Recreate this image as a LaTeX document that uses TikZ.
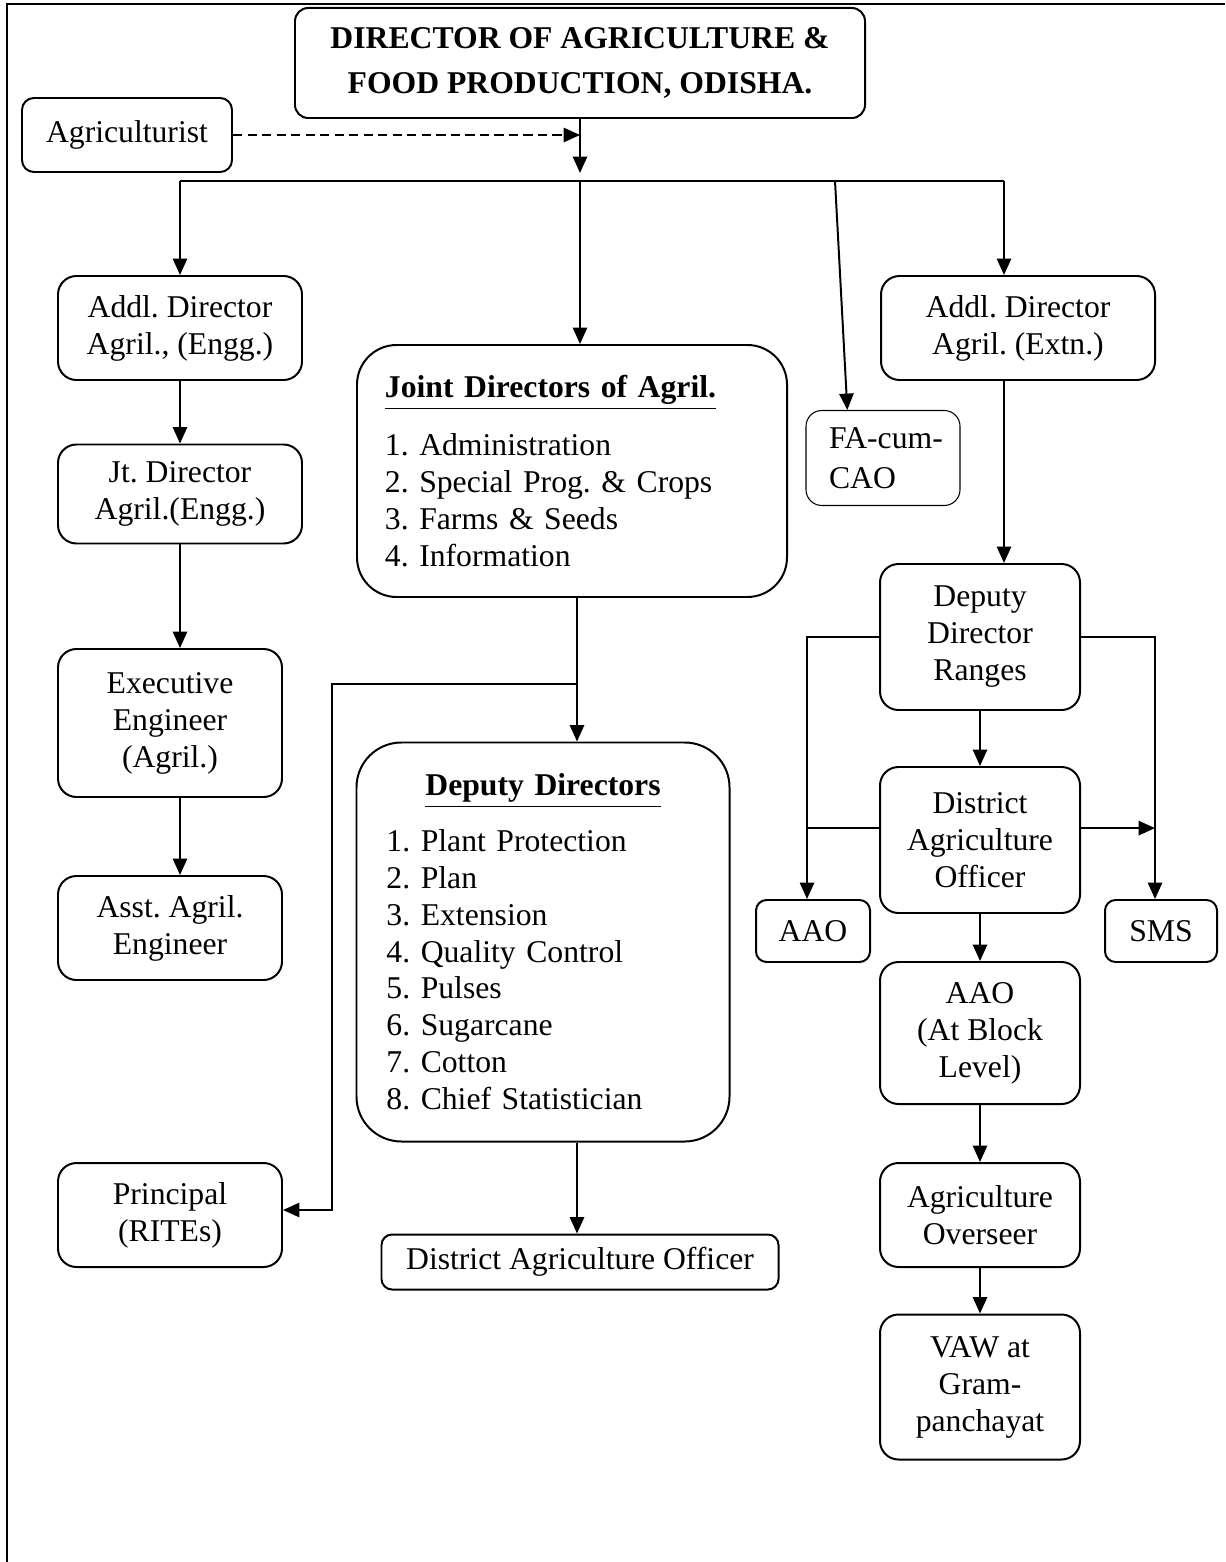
\documentclass[tikz,border=0pt]{standalone}
\usepackage{fontspec}
\setmainfont{Liberation Serif}
\usepackage{tikz}
\usetikzlibrary{arrows.meta,calc}
\frenchspacing
\newcommand{\pxl}{0.3788pt}
\tikzset{
  box/.style      = {shape=rectangle, rounded corners=7pt,
                     draw, line width=0.75pt, align=center, inner sep=0pt,
                     font=\fontsize{12pt}{14pt}\selectfont},
  smallbox/.style = {box, rounded corners=4pt},
  listbox/.style  = {box, rounded corners=15pt, align=left},
  boxsize/.style 2 args = {minimum width=#1*\pxl, minimum height=#2*\pxl},
  link/.style     = {line width=0.75pt},
  arr/.style      = {link, -{Triangle[length=6.2pt,width=5.4pt]}}
}

\begin{document}
\begin{tikzpicture}[x=0.3788pt, y=-0.3788pt]
  \useasboundingbox (0,0) rectangle (1225,1562);
  \draw [line width=0.8pt] (7,1562) -- (7,4) -- (1225,4);

  % top
  \node [box, rounded corners=5pt, boxsize={570}{110},
         font=\bfseries\fontsize{12pt}{17pt}\selectfont] (dir) at (580,63)
        {DIRECTOR OF AGRICULTURE \&\\FOOD PRODUCTION, ODISHA.};
  \node [box, rounded corners=4.5pt, boxsize={210}{74}] (agri) at (127,135) {Agriculturist};

  \coordinate (hubtip) at (580,173);
  \coordinate (hub)    at (580,181);
  \coordinate (lcol)   at (180,181);
  \coordinate (rcol)   at (1004,181);
  \coordinate (fabus)  at (835,181);

  % left column
  \node [box, boxsize={244}{104}] (addlE) at (180,328) {Addl. Director\\Agril., (Engg.)};
  \node [box, boxsize={244}{99}]  (jtE)   at (180,494) {Jt. Director\\Agril.(Engg.)};
  \node [box, boxsize={224}{148}] (exE)   at (170,723) {Executive\\Engineer\\(Agril.)};
  \node [box, boxsize={224}{104}] (asstE) at (170,928) {Asst. Agril.\\Engineer};
  \node [box, boxsize={224}{104}] (prin)  at (170,1215) {Principal\\(RITEs)};

  % middle column
  \node [listbox, boxsize={430}{252}, text width=141.7pt] (jd) at (572,471)
        {\underline{\textbf{Joint Directors of Agril.}}\\[8pt]
         1. Administration\\
         2. Special Prog. \& Crops\\
         3. Farms \& Seeds\\
         4. Information};
  \node [listbox, rounded corners=17pt, boxsize={373}{399}, text width=118.6pt] (dd) at (543,942)
        {\hfill\underline{\textbf{Deputy Directors}}\hfill\null\\[7pt]
         1. Plant Protection\\
         2. Plan\\
         3. Extension\\
         4. Quality Control\\
         5. Pulses\\
         6. Sugarcane\\
         7. Cotton\\
         8. Chief Statistician};
  \node [smallbox, boxsize={397}{55}] (dao2) at (580,1262) {District Agriculture Officer};

  \node [box, rounded corners=6pt, line width=0.4pt, align=left, boxsize={154}{95},
         text width=40.9pt, font=\fontsize{12pt}{15pt}\selectfont] (fa) at (883,458) {\mbox{FA-cum-}\\CAO};

  % right column
  \node [box, boxsize={274}{104}] (addlX) at (1018,328) {Addl. Director\\Agril. (Extn.)};
  \node [box, boxsize={200}{146}] (ddr)  at (980,637)  {Deputy\\Director\\Ranges};
  \node [box, boxsize={200}{146}] (dao)  at (980,840)  {District\\Agriculture\\Officer};
  \node [smallbox, boxsize={114}{62}] (aao) at (813,931) {AAO};
  \node [smallbox, boxsize={112}{62}] (sms) at (1161,931) {SMS};
  \node [box, boxsize={200}{142}] (aaob) at (980,1033) {AAO\\(At Block\\Level)};
  \node [box, boxsize={200}{104}] (ovs)  at (980,1215) {Agriculture\\Overseer};
  \node [box, boxsize={200}{145}] (vaw)  at (980,1387) {VAW at\\Gram-\\panchayat};

  \coordinate (split) at (577,684);
  \coordinate (bend)  at (332,1210);
  \coordinate (lbus)  at (807,637);
  \coordinate (rbus)  at (1155,637);

  % connectors from the top
  \draw [arr] (dir.south) -- (hubtip);
  \draw [arr, dash pattern=on 3.5pt off 2pt] (agri.east) -- (agri.east -| hub);
  \draw [link] (lcol) -- (rcol);
  \draw [arr] (lcol) -- (addlE.north);
  \draw [arr] (hub) -- (hub |- jd.north);
  \draw [arr] (fabus) -- ($(fa.north west)!0.27!(fa.north east)$);
  \draw [arr] (rcol) -- (rcol |- addlX.north);

  % left column
  \draw [arr] (lcol |- addlE.south) -- (lcol |- jtE.north);
  \draw [arr] (lcol |- jtE.south) -- (lcol |- exE.north);
  \draw [arr] (lcol |- exE.south) -- (lcol |- asstE.north);

  % middle column
  \draw [link] (split |- jd.south) -- (split);
  \draw [arr] (split) -- (split |- dd.north);
  \draw [arr] (split) -| (bend) -- (bend -| prin.east);
  \draw [arr] (split |- dd.south) -- (split |- dao2.north);

  % right column
  \draw [arr] (rcol |- addlX.south) -- (rcol |- ddr.north);
  \draw [arr] (ddr.south) -- (dao.north);
  \draw [arr] (ddr.west) -- (lbus) -- (lbus |- aao.north);
  \draw [arr] (ddr.east) -- (rbus) -- (rbus |- sms.north);
  \draw [link] ([yshift=4.5pt]dao.west) coordinate (dl) -- (dl -| lbus);
  \draw [arr] ([yshift=4.5pt]dao.east) coordinate (dr) -- (dr -| rbus);
  \draw [arr] (dao.south) -- (aaob.north);
  \draw [arr] (aaob.south) -- (ovs.north);
  \draw [arr] (ovs.south) -- (vaw.north);
\end{tikzpicture}
\end{document}
